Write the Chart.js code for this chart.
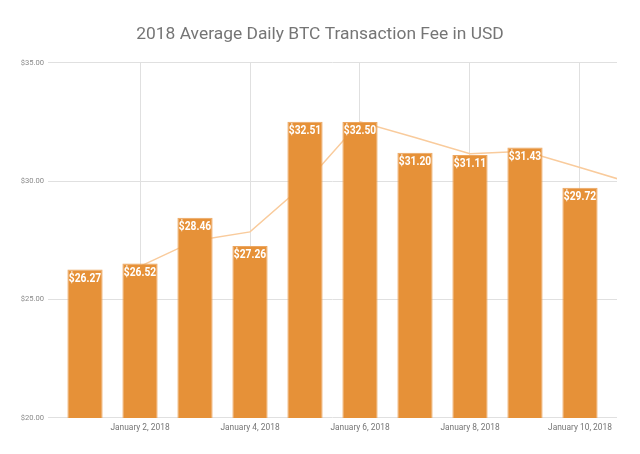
<!DOCTYPE html>
<html>
<head>
<meta charset="utf-8">
<script src="https://cdn.jsdelivr.net/npm/chart.js@4"></script>
<style>
  html, body { margin: 0; padding: 0; background: #fff; }
  #wrap { width: 640px; height: 454px; }
</style>
</head>
<body>
<div id="wrap"><canvas id="feeChart"></canvas></div>
<script>
// data
const days = [1, 2, 3, 4, 5, 6, 7, 8, 9, 10];
const fees = [26.27, 26.52, 28.46, 27.26, 32.51, 32.50, 31.20, 31.11, 31.43, 29.72];
// 2-day moving average trend line (last point runs off the plot edge)
const trendDays = [2, 3, 4, 5, 6, 7, 8, 9, 10, 11];
const trendFees = [26.40, 27.49, 27.86, 29.89, 32.51, 31.85, 31.16, 31.27, 30.58, 29.88];
const tickDays = [2, 4, 6, 8, 10];
const tickLabels = ['January 2, 2018', 'January 4, 2018', 'January 6, 2018', 'January 8, 2018', 'January 10, 2018'];
const yTicks = [20, 25, 30, 35];

// white value labels inside top of each bar (slightly condensed like the original)
const barLabels = {
    id: 'barLabels',
    afterDatasetsDraw(chart) {
        const ctx = chart.ctx;
        const meta = chart.getDatasetMeta(0);
        meta.data.forEach((bar, i) => {
            ctx.save();
            ctx.translate(bar.x, bar.y + 3);
            ctx.scale(0.82, 1);
            ctx.fillStyle = '#ffffff';
            ctx.font = 'bold 12.5px Roboto';
            ctx.textAlign = 'center';
            ctx.textBaseline = 'top';
            ctx.fillText('$' + fees[i].toFixed(2), 0, 0);
            ctx.restore();
        });
    }
};

const ctx = document.getElementById('feeChart').getContext('2d');
new Chart(ctx, {
    data: {
        datasets: [{
            type: 'bar',
            data: days.map((d, i) => ({ x: d, y: fees[i] })),
            backgroundColor: '#e69138',
            borderColor: '#eca660',
            borderWidth: 1,
            barPercentage: 0.64,
            categoryPercentage: 1,
            order: 1
        }, {
            type: 'line',
            data: trendDays.map((d, i) => ({ x: d, y: trendFees[i] })),
            borderColor: '#f9cb9c',
            borderWidth: 1.5,
            pointRadius: 0,
            tension: 0,
            order: 2
        }]
    },
    options: {
        responsive: true,
        maintainAspectRatio: false,
        animation: false,
        layout: { padding: { left: 0, right: 0, top: 0, bottom: 16 } },
        plugins: {
            legend: { display: false },
            tooltip: { enabled: false },
            title: {
                display: true,
                text: '2018 Average Daily BTC Transaction Fee in USD',
                color: '#757575',
                font: { family: 'Roboto', size: 17.4, weight: 'normal' },
                padding: { top: 24, bottom: 18 }
            }
        },
        scales: {
            x: {
                type: 'linear',
                min: 0.327,
                max: 10.673,
                offset: false,
                afterBuildTicks: s => { s.ticks = tickDays.map(v => ({ value: v })); },
                ticks: {
                    callback: (v) => tickLabels[tickDays.indexOf(v)],
                    color: '#757575',
                    font: { family: 'Roboto', size: 8.4 },
                    maxRotation: 0,
                    autoSkip: false,
                    padding: 5
                },
                grid: { color: '#e0e0e0', drawTicks: false, offset: false },
                border: { display: false }
            },
            y: {
                min: 20,
                max: 35,
                afterBuildTicks: s => { s.ticks = yTicks.map(v => ({ value: v })); },
                afterFit: s => { s.width = 48; },
                ticks: {
                    callback: v => '$' + v.toFixed(2),
                    color: '#8a8a8a',
                    font: { family: 'Roboto', size: 7.6 },
                    padding: 4
                },
                grid: { color: '#e0e0e0', drawTicks: false },
                border: { display: false }
            },
            // empty right-hand spacer so the title stays centred on the page
            yRight: {
                position: 'right',
                afterFit: s => { s.width = 23; },
                grid: { display: false },
                ticks: { display: false },
                border: { display: false }
            }
        }
    },
    plugins: [barLabels]
});
</script>
</body>
</html>
